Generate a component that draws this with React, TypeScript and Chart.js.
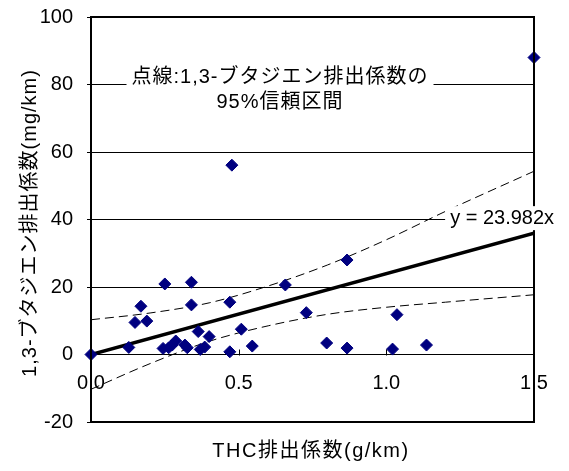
import { useEffect, useRef } from 'react';
import { Chart, registerables } from 'chart.js';

Chart.register(...registerables);

// Measured data (THC g/km vs 1,3-butadiene mg/km)
const pointX = [0, 0.477, 0.25, 0.34, 0.169, 0.34, 0.47, 0.149, 0.189, 0.128, 0.363, 0.4, 0.509, 0.546, 0.47, 0.244, 0.263, 0.275, 0.287, 0.318, 0.326, 0.37, 0.385, 0.658, 0.867, 0.729, 1.036, 0.798, 0.867, 1.021, 1.136, 1.5];
const pointY = [0, 56.1, 20.9, 21.4, 14.3, 14.7, 15.5, 9.5, 9.9, 2.1, 6.8, 5.3, 7.5, 2.5, 0.8, 1.8, 2.0, 2.8, 4.0, 2.8, 2.0, 1.5, 2.2, 20.6, 28.0, 12.4, 11.8, 3.4, 1.9, 1.6, 2.8, 88];

// Trend line y = 23.982x
const trendX = [0, 1.5];
const trendY = [0, 35.97];

// 95% confidence band (dashed)
const bandX = [0, 0.2, 0.4, 0.6, 0.8, 1.0, 1.2, 1.5];
const upperY = [10.3, 12.3, 15.3, 20.3, 26.5, 34.0, 42.4, 54.3];
const lowerY = [-10.3, -2.7, 3.9, 8.5, 11.9, 14.0, 15.5, 17.7];

const xTicks = [0, 0.5, 1.0, 1.5];
const yTicks = [-20, 0, 20, 40, 60, 80, 100];

const xTitle = 'THC排出係数(g/km)';
const yTitle = '1,3-ブタジエン排出係数(mg/km)';
const noteLine1 = '点線:1,3-ブタジエン排出係数の';
const noteLine2 = '95%信頼区間';
const trendLabel = 'y = 23.982x';

const FAMILY = "'Liberation Sans', Arial, 'Noto Sans CJK JP', sans-serif";
const FONT = `20px ${FAMILY}`;

const decor = {
  id: 'decor',
  afterDraw(chart: any) {
    const { ctx, chartArea: a, scales } = chart;
    const x = scales.x;
    const y = scales.y;
    ctx.save();
    // outer frame
    ctx.strokeStyle = '#000';
    ctx.lineWidth = 2;
    ctx.strokeRect(a.left, a.top, a.right - a.left, a.bottom - a.top);
    // small upward tick marks on x axis (at y = 0)
    const y0 = Math.round(y.getPixelForValue(0)) + 0.5;
    ctx.lineWidth = 1;
    xTicks.forEach((v) => {
      const px = Math.round(x.getPixelForValue(v)) + 0.5;
      ctx.beginPath();
      ctx.moveTo(px, y0);
      ctx.lineTo(px, y0 - 6);
      ctx.stroke();
    });

    ctx.font = FONT;
    ctx.fillStyle = '#000';
    ctx.textBaseline = 'middle';

    // note text with white background
    ctx.textAlign = 'center';
    (ctx as any).letterSpacing = '1px';
    const nx = x.getPixelForValue(0.64);
    const ny1 = y.getPixelForValue(82);
    const ny2 = y.getPixelForValue(74.8);
    const w1 = ctx.measureText(noteLine1).width;
    ctx.fillStyle = '#fff';
    ctx.fillRect(nx - w1 / 2 - 5, ny1 - 12, w1 + 10, 24);
    ctx.fillStyle = '#000';
    ctx.fillText(noteLine1, nx, ny1);
    ctx.fillText(noteLine2, nx, ny2);
    (ctx as any).letterSpacing = '0px';

    // trend label with white background
    ctx.textAlign = 'left';
    const tx = x.getPixelForValue(1.216);
    const ty = y.getPixelForValue(40.4);
    const tw = ctx.measureText(trendLabel).width;
    ctx.fillStyle = '#fff';
    ctx.fillRect(tx - 5, ty - 12, tw + 8, 24);
    ctx.fillStyle = '#000';
    ctx.fillText(trendLabel, tx, ty);

    // axis titles
    ctx.textAlign = 'center';
    (ctx as any).letterSpacing = '1.5px';
    ctx.fillText(xTitle, 311, 451);
    (ctx as any).letterSpacing = '1px';
    ctx.save();
    ctx.translate(30, 223);
    ctx.rotate(-Math.PI / 2);
    ctx.fillText(yTitle, 0, 0);
    ctx.restore();
    (ctx as any).letterSpacing = '0px';

    ctx.restore();
  },
};

export default function App() {
  const ref = useRef<HTMLCanvasElement>(null);
  useEffect(() => {
    document.body.style.margin = '0';
    const chart = new Chart(ref.current!, {
      type: 'scatter',
      data: {
        datasets: [
          {
            label: 'data',
            data: pointX.map((v, i) => ({ x: v, y: pointY[i] })),
            pointStyle: 'rectRot',
            pointRadius: 6,
            pointBackgroundColor: '#000080',
            pointBorderColor: '#000080',
            pointBorderWidth: 1,
            showLine: false,
            clip: false,
          } as any,
          {
            label: 'trend',
            data: trendX.map((v, i) => ({ x: v, y: trendY[i] })),
            showLine: true,
            borderColor: '#000',
            borderWidth: 3.5,
            pointRadius: 0,
          },
          {
            label: 'upper',
            data: bandX.map((v, i) => ({ x: v, y: upperY[i] })),
            showLine: true,
            borderColor: '#000',
            borderWidth: 1,
            borderDash: [9, 5],
            pointRadius: 0,
            cubicInterpolationMode: 'monotone',
          } as any,
          {
            label: 'lower',
            data: bandX.map((v, i) => ({ x: v, y: lowerY[i] })),
            showLine: true,
            borderColor: '#000',
            borderWidth: 1,
            borderDash: [9, 5],
            pointRadius: 0,
            cubicInterpolationMode: 'monotone',
          } as any,
        ],
      },
      options: {
        responsive: false,
        animation: false,
        devicePixelRatio: 1,
        layout: { padding: { top: 17, right: 35, bottom: 49, left: 0 } },
        plugins: { legend: { display: false }, tooltip: { enabled: false } },
        scales: {
          x: {
            type: 'linear',
            min: 0,
            max: 1.5,
            position: { y: 0 } as any,
            afterBuildTicks: (s: any) => {
              s.ticks = xTicks.map((v) => ({ value: v }));
            },
            afterFit: (s: any) => {
              s.paddingLeft = 0;
              s.paddingRight = 0;
            },
            ticks: {
              font: { family: FAMILY, size: 20 },
              color: '#000',
              padding: 17,
              maxRotation: 0,
              callback: (v: any) => Number(v).toFixed(1),
            },
            grid: { display: false, drawTicks: false },
            border: { display: true, color: '#000', width: 1 },
          },
          y: {
            type: 'linear',
            min: -20,
            max: 100,
            afterBuildTicks: (s: any) => {
              s.ticks = yTicks.map((v) => ({ value: v }));
            },
            afterFit: (s: any) => {
              s.width = 91;
              s.paddingTop = 0;
              s.paddingBottom = 0;
            },
            ticks: {
              font: { family: FAMILY, size: 20 },
              color: '#000',
              padding: 14,
            },
            grid: { color: '#000', lineWidth: 1, drawTicks: true, tickLength: 4 },
            border: { display: false },
          },
        },
      },
      plugins: [decor],
    });
    return () => chart.destroy();
  }, []);
  return (
    <div style={{ width: 569, height: 471 }}>
      <canvas ref={ref} width={569} height={471} style={{ display: 'block' }} />
    </div>
  );
}
